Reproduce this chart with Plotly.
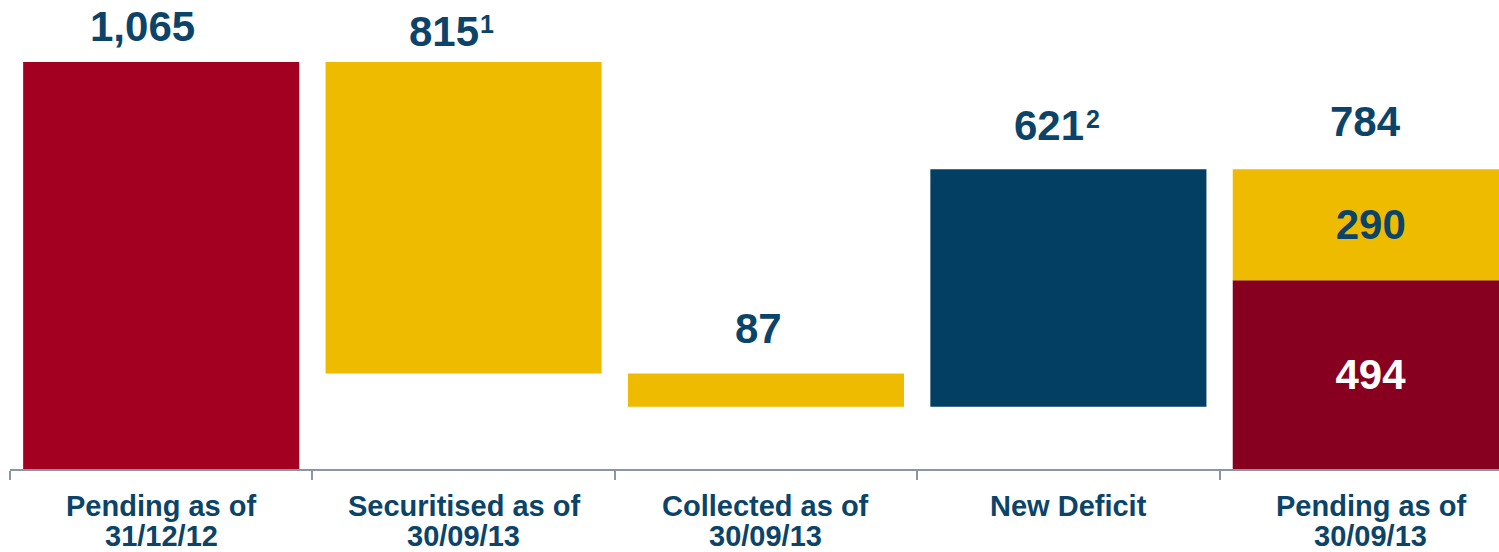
import plotly.graph_objects as go

# Waterfall of pending amounts
categories = ["Pending as of<br>31/12/12", "Securitised as of<br>30/09/13",
              "Collected as of<br>30/09/13", "New Deficit", "Pending as of<br>30/09/13"]
opening = 1065
securitised = -815
collected = -87
new_deficit = 621
closing_parts = [494, 290]          # red part, yellow part
value_labels = ["1,065", "815", "87", "621", "784"]
footnotes = ["", "1", "", "2", ""]

# label placement tweaks (pixels)
label_xshift = [-19, -20, -7, -19, -5]
label_yshift = [10, 5, 19, 18, 22]
note_xshift = [0, 23, 0, 25, 0]
note_yshift = [0, 22, 0, 34, 0]

NAVY_TEXT = "#0B4468"
RED = "#A30021"
DARK_RED = "#87001F"
YELLOW = "#EEBB00"
NAVY = "#023F62"
AXIS_GREY = "#8C95A2"
FONT = "Liberation Sans"

# bases and heights for the floating bars
level1 = opening
level2 = level1 + securitised
level3 = level2 + collected
level4 = level3 + new_deficit

flow_x = categories[:4]
flow_base = [0, level2, level3, level3]
flow_height = [opening, -securitised, -collected, new_deficit]
flow_color = [RED, YELLOW, YELLOW, NAVY]
tops = [level1, level1, level2, level4, sum(closing_parts)]

fig = go.Figure()
fig.add_trace(go.Bar(x=flow_x, y=flow_height, base=flow_base,
                     marker=dict(color=flow_color, line_width=0),
                     width=0.913, hoverinfo="skip"))
fig.add_trace(go.Bar(x=[categories[4]], y=[closing_parts[0]], base=[0],
                     marker=dict(color=DARK_RED, line_width=0), width=0.913,
                     text=[str(closing_parts[0])], textposition="inside",
                     insidetextanchor="middle",
                     textfont=dict(family=FONT, size=42, color="white", weight="bold"),
                     hoverinfo="skip"))
fig.add_trace(go.Bar(x=[categories[4]], y=[closing_parts[1]], base=[closing_parts[0]],
                     marker=dict(color=YELLOW, line_width=0), width=0.913,
                     text=[str(closing_parts[1])], textposition="inside",
                     insidetextanchor="middle",
                     textfont=dict(family=FONT, size=42, color=NAVY_TEXT, weight="bold"),
                     hoverinfo="skip"))

# value labels above each column, with footnote markers
for i, cat in enumerate(categories):
    fig.add_annotation(x=cat, y=tops[i], text=value_labels[i], showarrow=False,
                       yanchor="bottom", xshift=label_xshift[i], yshift=label_yshift[i],
                       font=dict(family=FONT, size=42, color=NAVY_TEXT, weight="bold"))
    if footnotes[i]:
        fig.add_annotation(x=cat, y=tops[i], text=footnotes[i], showarrow=False,
                           yanchor="bottom", xshift=note_xshift[i], yshift=note_yshift[i],
                           font=dict(family=FONT, size=25, color=NAVY_TEXT, weight="bold"))

# category labels under the axis, one annotation per line for tight line spacing
for cat in categories:
    for j, line in enumerate(cat.split("<br>")):
        fig.add_annotation(x=cat, xref="x", y=0, yref="paper", text=line,
                           showarrow=False, yanchor="top", yshift=-20 - 30 * j,
                           borderpad=0,
                           font=dict(family=FONT, size=29, color=NAVY_TEXT, weight="bold"))

fig.update_layout(
    width=1499, height=552, barmode="overlay", showlegend=False,
    margin=dict(l=10, r=0, t=0, b=83),
    paper_bgcolor="white", plot_bgcolor="white",
    uniformtext=dict(mode="show", minsize=10),
    xaxis=dict(type="category", categoryorder="array", categoryarray=categories,
               range=[-0.5, 4.424], tickson="boundaries", ticks="outside",
               ticklen=9, tickwidth=2, tickcolor=AXIS_GREY, showticklabels=False,
               showline=True, linecolor=AXIS_GREY, linewidth=2,
               showgrid=False, zeroline=False),
    yaxis=dict(range=[0, 1227], visible=False, showgrid=False, zeroline=False),
)

fig.write_html("out.html")
